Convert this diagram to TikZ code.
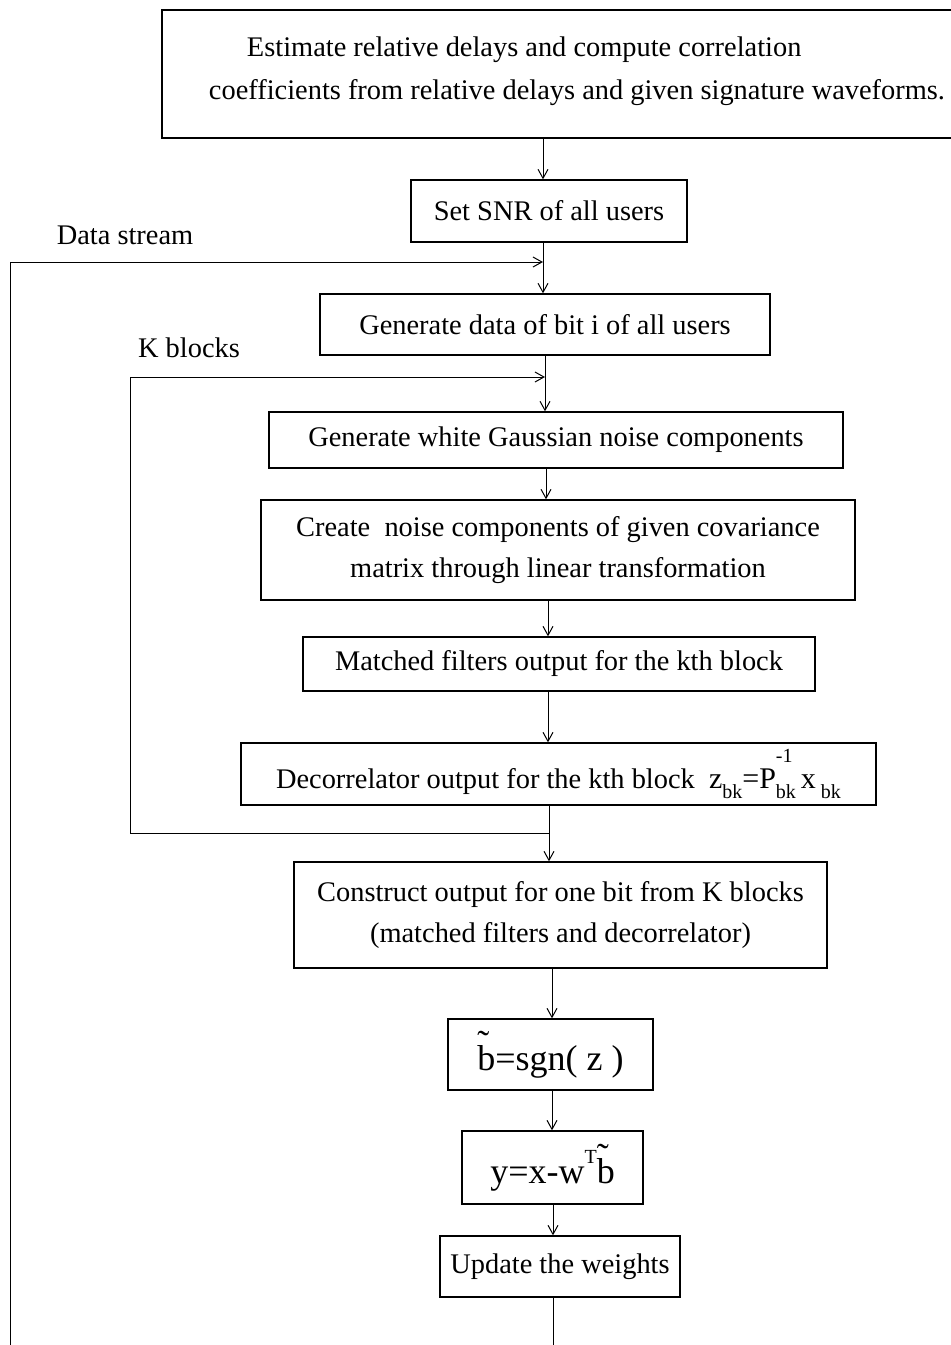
\documentclass[tikz,border=0pt]{standalone}
\usepackage{fontspec}
\setmainfont{Liberation Serif}
\usetikzlibrary{arrows.meta}
\newcommand\subfs{\fontsize{10}{10}\selectfont}
\newcommand\tildeb{\makebox[0pt][l]{\raisebox{0.42em}{\char"02DC}}b}
\begin{document}
\begin{tikzpicture}[x=0.5pt,y=-0.5pt,
  box/.style={draw, line width=0.7pt, inner sep=0pt, align=center,
              font=\fontsize{14.2}{20.5}\selectfont},
  txt/.style={inner sep=0pt, font=\fontsize{14.2}{21.5}\selectfont},
  big/.style={font=\fontsize{18}{20}\selectfont},
  arr/.style={-{Straight Barb[length=4.5pt,width=5pt]}, line width=0.5pt},
  ln/.style={line width=0.5pt}]
\useasboundingbox (0,0) rectangle (950,1345);

% boxes (centre at pixel coordinates, sizes in pt = px/2)
\node[box, minimum width=399pt, minimum height=64pt] (top) at (561,74) {};
\node[txt, align=left] (toptxt) at (577,71.5)
  {\hspace*{19pt}Estimate relative delays and compute correlation\\
   coefficients from relative delays and given signature waveforms.};
\node[box, minimum width=138pt, minimum height=31pt] (snr) at (549,211) {Set SNR of all users};
\node[box, minimum width=225pt, minimum height=30.5pt] (gen) at (545,324.5) {Generate data of bit i of all users};
\node[box, minimum width=287pt, minimum height=28pt] (white) at (556,440) {Generate white Gaussian noise components};
\node[box, minimum width=297pt, minimum height=50pt] (create) at (558,550)
  {Create\ \ noise components of given covariance\\matrix through linear transformation};
\node[box, minimum width=256pt, minimum height=27pt] (match) at (559,664) {Matched filters output for the kth block};
\node[box, minimum width=317.5pt, minimum height=31pt] (decor) at (558.5,774)
  {Decorrelator output for the kth block\ \ {\fontsize{15}{15}\selectfont z\raisebox{-0.35em}{\subfs bk}=P\makebox[0pt][l]{\raisebox{0.85em}{\subfs -1}}\raisebox{-0.35em}{\subfs bk}\,x\,\raisebox{-0.35em}{\subfs bk}}};
\node[box, minimum width=266.5pt, minimum height=53pt] (constr) at (560.5,915)
  {Construct output for one bit from K blocks\\(matched filters and decorrelator)};
\node[box, big, minimum width=102.5pt, minimum height=35.5pt] (bsgn) at (550.5,1054.5) {\tildeb=sgn( z )};
\node[box, big, minimum width=90.5pt, minimum height=36.5pt] (yeq) at (552.5,1167.5) {y=x-w\raisebox{0.55em}{\subfs T}\tildeb};
\node[box, minimum width=120pt, minimum height=30.5pt] (upd) at (560,1266.5) {Update the weights};

% labels
\node[txt] (dslab) at (125,235) {Data stream};
\node[txt] (kblab) at (189,348) {K blocks};

% column coordinates
\coordinate (c1) at (543,0);
\coordinate (c2) at (545,0);
\coordinate (c3) at (546,0);
\coordinate (c4) at (548,0);
\coordinate (c5) at (549,0);
\coordinate (c7) at (552,0);
\coordinate (c8) at (553,0);
\coordinate (dsb) at (10,1345);
\coordinate (dst) at (10,262);
\coordinate (kbb) at (130,833);
\coordinate (kbt) at (130,377);

% main flow
\draw[arr] (top.south -| c1) -- (snr.north -| c1);
\draw[arr] (snr.south -| c1) -- (gen.north -| c1);
\draw[arr] (gen.south -| c2) -- (white.north -| c2);
\draw[arr] (white.south -| c3) -- (create.north -| c3);
\draw[arr] (create.south -| c4) -- (match.north -| c4);
\draw[arr] (match.south -| c4) -- (decor.north -| c4);
\draw[arr] (decor.south -| c5) -- (constr.north -| c5);
\draw[arr] (constr.south -| c7) -- (bsgn.north -| c7);
\draw[arr] (bsgn.south -| c7) -- (yeq.north -| c7);
\draw[arr] (yeq.south -| c8) -- (upd.north -| c8);
\draw[ln] (upd.south -| c8) -- (c8 |- dsb);

% data stream loop
\draw[ln] (dsb) -- (dst);
\draw[arr] (dst) -- (dst -| c1);

% K blocks loop
\draw[ln] (kbb -| c5) -- (kbb) -- (kbt);
\draw[arr] (kbt) -- (kbt -| c2);
\end{tikzpicture}
\end{document}
